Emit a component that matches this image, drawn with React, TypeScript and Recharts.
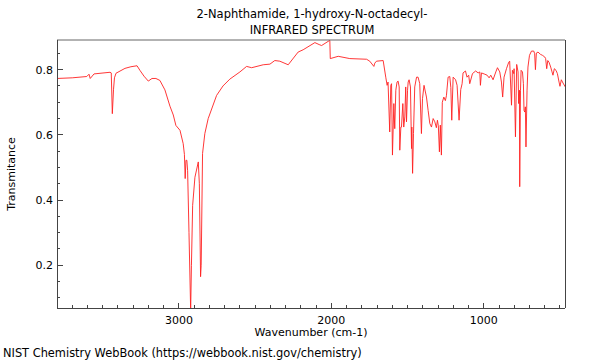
import { LineChart, Line, XAxis, YAxis } from "recharts";

// IR spectrum (wavenumber cm-1 -> transmittance)
const wavenumbers = [
  3800, 3700, 3605, 3590, 3582, 3557, 3452, 3444, 3437, 3429, 3423, 3413, 3354, 3315, 3275, 3256,
  3229, 3201, 3177, 3151, 3125, 3092, 3059, 3037, 3020, 2993, 2972, 2964, 2959, 2954, 2948, 2943,
  2934, 2923, 2918, 2910, 2895, 2873, 2866, 2858, 2854, 2845, 2830, 2808, 2753, 2711, 2666, 2600,
  2556, 2523, 2447, 2403, 2371, 2338, 2283, 2218, 2185, 2108, 2080, 2064, 2010, 2007, 1955, 1879,
  1769, 1748, 1721, 1715, 1704, 1660, 1643, 1634, 1628, 1617, 1610, 1605, 1599, 1590, 1584, 1577,
  1569, 1562, 1555, 1551, 1544, 1540, 1531, 1525, 1518, 1512, 1507, 1500, 1496, 1490, 1481, 1474,
  1472, 1467, 1461, 1453, 1441, 1431, 1420, 1409, 1402, 1392, 1376, 1365, 1354, 1343, 1332, 1321,
  1311, 1304, 1298, 1291, 1285, 1278, 1272, 1262, 1252, 1245, 1234, 1223, 1216, 1210, 1201, 1185,
  1175, 1162, 1151, 1142, 1136, 1120, 1110, 1099, 1092, 1074, 1053, 1037, 1026, 1022, 1015, 993,
  978, 965, 954, 939, 921, 910, 895, 884, 876, 867, 851, 836, 830, 818, 812, 803,
  801, 792, 784, 775, 771, 766, 764, 759, 755, 746, 740, 736, 731, 727, 723, 716,
  710, 700, 687, 672, 666, 661, 655, 644, 628, 615, 600, 594, 587, 580, 572, 561,
  552, 546, 537, 526, 517, 506, 500, 491, 480, 465,
];

const transmittance = [
  0.773, 0.775, 0.779, 0.786, 0.773, 0.787, 0.792, 0.79, 0.665, 0.74, 0.775, 0.789, 0.804, 0.809, 0.812, 0.798,
  0.78, 0.765, 0.773, 0.773, 0.767, 0.738, 0.688, 0.661, 0.629, 0.614, 0.573, 0.54, 0.466, 0.522, 0.522, 0.49,
  0.3, 0.06, 0.2, 0.384, 0.47, 0.517, 0.45, 0.165, 0.2, 0.543, 0.604, 0.65, 0.721, 0.75, 0.771, 0.793,
  0.81, 0.806, 0.815, 0.817, 0.828, 0.826, 0.815, 0.854, 0.861, 0.883, 0.877, 0.874, 0.89, 0.834, 0.841, 0.834,
  0.832, 0.826, 0.81, 0.82, 0.826, 0.828, 0.777, 0.752, 0.762, 0.609, 0.752, 0.757, 0.538, 0.696, 0.619, 0.737,
  0.762, 0.765, 0.747, 0.553, 0.624, 0.624, 0.696, 0.624, 0.655, 0.747, 0.64, 0.737, 0.762, 0.769, 0.747, 0.558,
  0.624, 0.482, 0.604, 0.747, 0.777, 0.777, 0.757, 0.604, 0.711, 0.752, 0.716, 0.675, 0.635, 0.624, 0.65, 0.64,
  0.622, 0.645, 0.628, 0.548, 0.63, 0.538, 0.7, 0.716, 0.705, 0.72, 0.777, 0.779, 0.745, 0.645, 0.777, 0.769,
  0.752, 0.645, 0.739, 0.757, 0.79, 0.796, 0.777, 0.783, 0.757, 0.788, 0.796, 0.79, 0.793, 0.752, 0.79, 0.786,
  0.783, 0.775, 0.783, 0.769, 0.793, 0.806, 0.793, 0.762, 0.716, 0.777, 0.803, 0.823, 0.826, 0.691, 0.798, 0.788,
  0.803, 0.594, 0.816, 0.793, 0.696, 0.737, 0.441, 0.737, 0.798, 0.793, 0.757, 0.675, 0.67, 0.686, 0.563, 0.737,
  0.808, 0.844, 0.857, 0.857, 0.849, 0.8, 0.851, 0.854, 0.847, 0.844, 0.839, 0.834, 0.803, 0.828, 0.823, 0.808,
  0.793, 0.783, 0.803, 0.798, 0.788, 0.762, 0.749, 0.769, 0.759, 0.747,
];

const xTicks = [
  3700, 3600, 3500, 3400, 3300, 3200, 3100, 3000, 2900, 2800, 2700, 2600, 2500, 2400, 2300, 2200,
  2100, 2000, 1900, 1800, 1700, 1600, 1500, 1400, 1300, 1200, 1100, 1000, 900, 800, 700, 600, 500,
];
const xLabels = [3000, 2000, 1000];
const yTicks = [0.1, 0.15, 0.2, 0.25, 0.3, 0.35, 0.4, 0.45, 0.5, 0.55, 0.6, 0.65, 0.7, 0.75, 0.8, 0.85];
const yLabels = [0.2, 0.4, 0.6, 0.8];

const data = wavenumbers.map((wn, i) => ({ wn, t: transmittance[i] }));

const FONT = "'DejaVu Sans', sans-serif";
const FRAME = "#444";

function XTick(props: any) {
  const { x, y, payload } = props;
  const major = xLabels.includes(payload.value);
  return (
    <g>
      <line x1={x} x2={x} y1={y} y2={y - (major ? 5 : 3)} stroke={FRAME} shapeRendering="crispEdges" />
      {major && (
        <text x={x} y={y + 16} textAnchor="middle" fontFamily={FONT} fontSize={11} fill="#000">
          {payload.value}
        </text>
      )}
    </g>
  );
}

function YTick(props: any) {
  const { x, y, payload } = props;
  const major = yLabels.some((v) => Math.abs(v - payload.value) < 1e-6);
  return (
    <g>
      <line x1={x} x2={x + (major ? 6 : 3)} y1={y} y2={y} stroke={FRAME} shapeRendering="crispEdges" />
      {major && (
        <text x={x - 4} y={y + 4} textAnchor="end" fontFamily={FONT} fontSize={11} fill="#000">
          {String(payload.value)}
        </text>
      )}
    </g>
  );
}

export default function App() {
  return (
    <div style={{ position: "absolute", left: 0, top: 0, width: 600, height: 360, background: "#fff" }}>
      <LineChart width={600} height={360} data={data} margin={{ top: 39, right: 34, bottom: 22, left: 17 }}>
        <XAxis
          dataKey="wn"
          type="number"
          domain={[467, 3800]}
          reversed
          allowDataOverflow
          ticks={xTicks}
          interval={0}
          height={30}
          tickSize={0}
          tickMargin={0}
          tick={<XTick />}
          tickLine={false}
          axisLine={{ stroke: FRAME, shapeRendering: "crispEdges" }}
        />
        <XAxis
          xAxisId="top"
          orientation="top"
          type="number"
          domain={[467, 3800]}
          reversed
          height={1}
          tick={false}
          tickLine={false}
          axisLine={{ stroke: "#666", strokeWidth: 1 }}
        />
        <YAxis
          type="number"
          domain={[0.069, 0.891]}
          allowDataOverflow
          ticks={yTicks}
          interval={0}
          width={40}
          tickSize={0}
          tickMargin={0}
          tick={<YTick />}
          tickLine={false}
          axisLine={{ stroke: FRAME, shapeRendering: "crispEdges" }}
        />
        <YAxis
          yAxisId="right"
          orientation="right"
          type="number"
          domain={[0.069, 0.891]}
          width={1}
          tick={false}
          tickLine={false}
          axisLine={{ stroke: FRAME, shapeRendering: "crispEdges" }}
        />
        <Line
          dataKey="t"
          type="linear"
          stroke="#ff2020"
          strokeWidth={0.9}
          dot={false}
          isAnimationActive={false}
        />
      </LineChart>
      <svg width={600} height={360} style={{ position: "absolute", left: 0, top: 0, pointerEvents: "none" }}>
        <text x={312} y={18} textAnchor="middle" fontFamily={FONT} fontSize={11.5}>
          2-Naphthamide, 1-hydroxy-N-octadecyl-
        </text>
        <text x={312} y={34} textAnchor="middle" fontFamily={FONT} fontSize={11.5}>
          INFRARED SPECTRUM
        </text>
        <text x={311} y={336} textAnchor="middle" fontFamily={FONT} fontSize={11}>
          Wavenumber (cm-1)
        </text>
        <text x={14.5} y={174} textAnchor="middle" fontFamily={FONT} fontSize={11} transform="rotate(-90 14.5 174)">
          Transmitance
        </text>
        <text x={3} y={357} fontFamily={FONT} fontSize={11.4}>
          NIST Chemistry WebBook (https://webbook.nist.gov/chemistry)
        </text>
      </svg>
    </div>
  );
}
